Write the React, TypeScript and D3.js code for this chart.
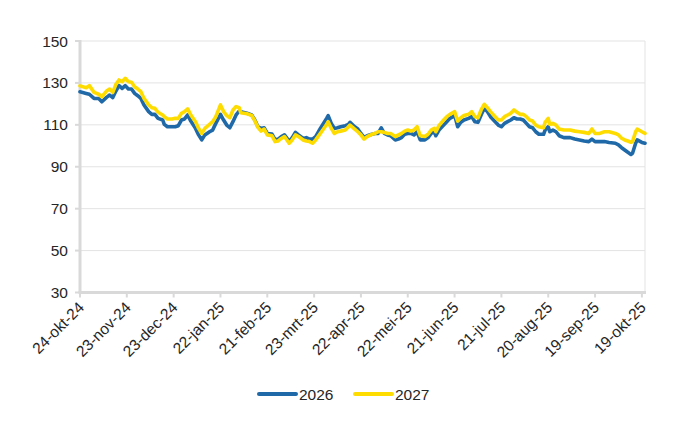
import * as d3 from "d3";
import {useEffect} from "react";

// datums (uitgelezen uit de grafiek)
const dates = [
  "2024-10-24", "2024-10-28", "2024-10-30", "2024-11-02", "2024-11-05", "2024-11-07", "2024-11-10",
  "2024-11-12", "2024-11-14", "2024-11-16", "2024-11-18", "2024-11-20", "2024-11-22", "2024-11-24",
  "2024-11-26", "2024-11-28", "2024-11-30", "2024-12-02", "2024-12-04", "2024-12-07", "2024-12-09",
  "2024-12-11", "2024-12-13", "2024-12-16", "2024-12-17", "2024-12-19", "2024-12-22", "2024-12-24",
  "2024-12-26", "2024-12-28", "2024-12-30", "2025-01-01", "2025-01-03", "2025-01-06", "2025-01-08",
  "2025-01-10", "2025-01-12", "2025-01-15", "2025-01-17", "2025-01-19", "2025-01-22", "2025-01-24",
  "2025-01-26", "2025-01-28", "2025-01-30", "2025-02-01", "2025-02-03", "2025-02-04", "2025-02-08",
  "2025-02-11", "2025-02-13", "2025-02-15", "2025-02-17", "2025-02-19", "2025-02-21", "2025-02-24",
  "2025-02-26", "2025-02-28", "2025-03-02", "2025-03-04", "2025-03-06", "2025-03-07", "2025-03-09",
  "2025-03-11", "2025-03-13", "2025-03-16", "2025-03-18", "2025-03-20", "2025-03-22", "2025-03-24",
  "2025-03-27", "2025-03-29", "2025-03-31", "2025-04-01", "2025-04-03", "2025-04-05", "2025-04-07",
  "2025-04-09", "2025-04-12", "2025-04-14", "2025-04-15", "2025-04-18", "2025-04-20", "2025-04-22",
  "2025-04-24", "2025-04-26", "2025-04-29", "2025-05-01", "2025-05-03", "2025-05-05", "2025-05-07",
  "2025-05-09", "2025-05-11", "2025-05-14", "2025-05-16", "2025-05-18", "2025-05-20", "2025-05-22",
  "2025-05-24", "2025-05-26", "2025-05-28", "2025-05-30", "2025-06-02", "2025-06-04", "2025-06-06",
  "2025-06-08", "2025-06-09", "2025-06-11", "2025-06-14", "2025-06-16", "2025-06-18", "2025-06-20",
  "2025-06-21", "2025-06-23", "2025-06-25", "2025-06-27", "2025-06-30", "2025-07-02", "2025-07-04",
  "2025-07-06", "2025-07-08", "2025-07-10", "2025-07-12", "2025-07-14", "2025-07-17", "2025-07-19",
  "2025-07-21", "2025-07-23", "2025-07-25", "2025-07-27", "2025-07-29", "2025-07-31", "2025-08-02",
  "2025-08-04", "2025-08-06", "2025-08-08", "2025-08-10", "2025-08-12", "2025-08-14", "2025-08-17",
  "2025-08-18", "2025-08-20", "2025-08-21", "2025-08-23", "2025-08-25", "2025-08-27", "2025-08-30",
  "2025-09-03", "2025-09-06", "2025-09-09", "2025-09-12", "2025-09-15", "2025-09-17", "2025-09-19",
  "2025-09-22", "2025-09-25", "2025-09-28", "2025-10-02", "2025-10-04", "2025-10-06", "2025-10-08",
  "2025-10-10", "2025-10-12", "2025-10-13", "2025-10-15", "2025-10-16", "2025-10-19", "2025-10-21",
];

const values2026 = [
  125.8, 125.0, 124.6, 122.6, 122.6, 121.0, 123.1,
  124.2, 123.0, 126.1, 128.7, 127.4, 128.7, 127.1,
  127.1, 125.0, 123.9, 122.6, 119.5, 116.3, 115.0,
  115.0, 113.1, 112.3, 110.2, 109.1, 109.1, 109.1,
  109.6, 112.3, 112.8, 114.7, 111.8, 108.3, 105.2,
  102.8, 105.2, 106.7, 107.5, 110.7, 115.0, 112.3,
  109.9, 108.6, 111.5, 114.7, 116.6, 116.2, 115.5,
  114.7, 112.3, 109.1, 108.3, 108.6, 105.9, 105.6,
  102.8, 103.2, 104.4, 105.2, 103.2, 102.0, 103.9,
  106.4, 105.2, 103.5, 103.9, 103.2, 103.2, 104.4,
  108.3, 110.7, 113.1, 114.4, 110.7, 108.3, 108.6,
  109.1, 109.6, 110.2, 111.2, 109.1, 108.0, 105.9,
  103.9, 104.8, 105.5, 105.9, 105.9, 108.6, 105.9,
  105.2, 104.8, 102.8, 103.2, 103.9, 105.5, 105.9,
  105.9, 105.2, 106.7, 102.8, 102.8, 103.9, 105.9,
  106.7, 104.8, 107.5, 109.9, 111.5, 113.1, 113.9,
  114.7, 109.1, 111.2, 112.3, 113.1, 113.9, 111.5,
  111.2, 114.7, 117.9, 116.3, 113.9, 111.5, 109.9,
  109.1, 110.7, 111.5, 112.3, 113.4, 112.8, 112.8,
  112.3, 110.7, 109.1, 108.6, 106.7, 105.5, 105.5,
  107.5, 109.1, 106.7, 107.5, 106.7, 104.8, 103.9,
  103.9, 103.2, 102.8, 102.3, 102.0, 103.2, 102.0,
  102.0, 102.0, 101.6, 101.2, 100.4, 99.1, 98.0,
  96.9, 95.9, 96.4, 101.2, 102.8, 101.6, 101.2,
];

const values2027 = [
  128.6, 127.7, 128.7, 125.5, 124.6, 123.4, 126.1,
  127.1, 125.5, 129.3, 131.4, 130.6, 132.2, 130.6,
  130.3, 128.2, 127.1, 125.8, 122.6, 119.5, 118.2,
  117.9, 116.0, 114.7, 113.9, 112.8, 112.8, 113.1,
  113.1, 115.5, 116.3, 117.6, 114.7, 111.5, 108.3,
  105.9, 108.3, 110.2, 111.5, 113.9, 119.5, 116.3,
  114.4, 113.4, 117.1, 118.7, 118.2, 115.8, 115.3,
  114.5, 112.0, 108.8, 107.0, 108.0, 105.2, 104.8,
  102.0, 102.3, 103.5, 104.4, 102.3, 101.2, 102.8,
  105.2, 104.4, 102.8, 102.3, 102.0, 101.2, 102.8,
  105.9, 108.0, 110.2, 111.5, 108.3, 105.9, 106.7,
  107.0, 107.5, 109.1, 109.9, 108.0, 106.7, 105.2,
  103.2, 104.4, 105.5, 105.9, 106.7, 106.7, 106.4,
  105.9, 105.9, 104.4, 105.2, 105.9, 107.0, 107.5,
  107.0, 107.5, 109.1, 104.8, 104.4, 105.5, 107.5,
  108.3, 106.7, 109.6, 112.3, 113.9, 115.0, 115.9,
  116.3, 111.8, 113.4, 114.4, 115.0, 116.3, 113.9,
  113.4, 117.1, 119.8, 118.2, 116.3, 113.9, 112.3,
  112.3, 113.9, 114.7, 115.5, 117.1, 116.0, 115.0,
  115.0, 113.9, 112.3, 111.8, 109.9, 109.1, 108.6,
  111.2, 113.1, 110.2, 110.7, 109.9, 108.0, 107.5,
  107.5, 107.0, 106.7, 106.4, 105.9, 108.0, 105.9,
  105.9, 106.7, 106.7, 105.9, 105.2, 103.6, 102.8,
  102.3, 101.7, 102.0, 106.7, 108.0, 106.7, 105.9,
];

const xTickDates = [
  "2024-10-24", "2024-11-23", "2024-12-23", "2025-01-22", "2025-02-21", "2025-03-23", "2025-04-22",
  "2025-05-22", "2025-06-21", "2025-07-21", "2025-08-20", "2025-09-19", "2025-10-19",
];
const xTickLabels = [
  "24-okt-24", "23-nov-24", "23-dec-24", "22-jan-25", "21-feb-25", "23-mrt-25", "22-apr-25",
  "22-mei-25", "21-jun-25", "21-jul-25", "20-aug-25", "19-sep-25", "19-okt-25",
];
const yTicks = [30, 50, 70, 90, 110, 130, 150];

const seriesNames = ["2026", "2027"];
const seriesColors = ["#1f69a8", "#ffdc00"];

const width = 700;
const height = 430;
const left = 80;
const right = 645;
const top = 41;
const bottom = 292.5;
const font = "'Liberation Sans', Arial, sans-serif";

const parse = d3.utcParse("%Y-%m-%d");

const App = () => {
  useEffect(() => {
    document.body.style.margin = "0";
  }, []);

  const x = d3.scaleUtc()
    .domain([parse("2024-10-24")!, parse("2025-10-21")!])
    .range([left, right]);
  const y = d3.scaleLinear().domain([30, 150]).range([bottom, top]);

  const parsed = dates.map(d => parse(d)!);
  const line = d3.line<number>()
    .x((_, i) => x(parsed[i]))
    .y(v => y(v));

  const series = [values2026, values2027];

  return (
    <svg width={width} height={height} style={{display: "block"}} fontFamily={font}>
      <rect x={0} y={0} width={width} height={height} fill="#fff"/>
      {/* rasterlijnen */}
      {yTicks.map(t => (
        <line key={t} x1={left} x2={right} y1={y(t)} y2={y(t)} stroke="#e3e3e3" strokeWidth={1}/>
      ))}
      <line x1={right} x2={right} y1={top} y2={bottom} stroke="#e3e3e3" strokeWidth={1}/>
      {/* y-as */}
      <line x1={left} x2={left} y1={top - 1} y2={bottom} stroke="#d9d9d9" strokeWidth={3}/>
      {yTicks.map(t => (
        <g key={t}>
          <line x1={left - 5} x2={left} y1={y(t)} y2={y(t)} stroke="#d9d9d9" strokeWidth={2}/>
          <text x={left - 12} y={y(t)} dy="0.36em" textAnchor="end" fontSize={15.5} fill="#262626">{t}</text>
        </g>
      ))}
      {/* x-as */}
      <line x1={left - 1.5} x2={right + 1} y1={bottom} y2={bottom} stroke="#d9d9d9" strokeWidth={3}/>
      {xTickDates.map((d, i) => {
        const tx = x(parse(d)!);
        return (
          <g key={d}>
            <line x1={tx} x2={tx} y1={bottom} y2={bottom + 5} stroke="#d9d9d9" strokeWidth={2}/>
            <text transform={`translate(${tx + 5},${bottom + 16}) rotate(-45)`} textAnchor="end"
                  fontSize={15.5} fill="#262626">{xTickLabels[i]}</text>
          </g>
        );
      })}
      {/* lijnen */}
      {series.map((s, i) => (
        <path key={seriesNames[i]} d={line(s) ?? ""} fill="none" stroke={seriesColors[i]} strokeWidth={3.6}
              strokeLinejoin="round" strokeLinecap="round"/>
      ))}
      {/* legenda */}
      {seriesNames.map((n, i) => {
        const lx = 259 + i * 96;
        return (
          <g key={n}>
            <line x1={lx} x2={lx + 37} y1={394} y2={394} stroke={seriesColors[i]} strokeWidth={4}
                  strokeLinecap="round"/>
            <text x={lx + 40} y={394} dy="0.36em" fontSize={15.5} fill="#262626">{n}</text>
          </g>
        );
      })}
    </svg>
  );
};

export default App;
